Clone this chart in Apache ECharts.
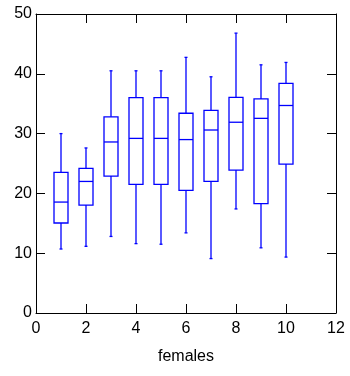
<!DOCTYPE html>
<html><head><meta charset="utf-8">
<script src="https://cdn.jsdelivr.net/npm/echarts@6/dist/echarts.min.js"></script>
<style>html,body{margin:0;padding:0;background:#fff}#c{width:350px;height:376px}</style>
</head><body><div id="c"></div>
<script>
var positions = [1, 2, 3, 4, 5, 6, 7, 8, 9, 10];
var lowWhisker = [10.7, 11.15, 12.8, 11.6, 11.5, 13.4, 9.1, 17.4, 10.9, 9.35];
var q1 = [15.05, 18.05, 22.9, 21.5, 21.5, 20.5, 22.0, 23.9, 18.3, 24.9];
var medians = [18.55, 22.0, 28.6, 29.2, 29.2, 29.0, 30.6, 31.9, 32.55, 34.7];
var q3 = [23.5, 24.2, 32.8, 36.0, 36.0, 33.4, 33.9, 36.05, 35.8, 38.4];
var highWhisker = [30.0, 27.6, 40.5, 40.5, 40.5, 42.75, 39.5, 46.8, 41.5, 41.9];
var xTicks = [0, 2, 4, 6, 8, 10, 12];
var yTicks = [0, 10, 20, 30, 40, 50];

var data = positions.map(function (p, i) {
  return [p, lowWhisker[i], q1[i], medians[i], q3[i], highWhisker[i]];
});

var chart = echarts.init(document.getElementById('c'), null, {renderer: 'canvas'});
var axisFont = {fontFamily: 'Liberation Sans, Arial, sans-serif', fontSize: 16, color: '#000'};
var axisLine = {show: true, onZero: false, lineStyle: {color: '#000', width: 1}};
var tickIn = {show: true, inside: true, length: 9, lineStyle: {color: '#000', width: 1}};

chart.setOption({
  animation: false,
  grid: {left: 36, top: 14, right: 14, bottom: 63, containLabel: false},
  xAxis: [{
    type: 'value', min: xTicks[0], max: xTicks[xTicks.length - 1], interval: 2,
    position: 'bottom',
    name: 'females', nameLocation: 'middle', nameGap: 36,
    nameTextStyle: {fontFamily: 'Liberation Sans, Arial, sans-serif', fontSize: 16, color: '#000'},
    axisLine: axisLine, axisTick: tickIn,
    axisLabel: Object.assign({margin: 8}, axisFont),
    splitLine: {show: false}
  }, {
    type: 'value', min: xTicks[0], max: xTicks[xTicks.length - 1], interval: 2,
    position: 'top',
    axisLine: axisLine, axisTick: tickIn, axisLabel: {show: false}, splitLine: {show: false}
  }],
  yAxis: [{
    type: 'value', min: yTicks[0], max: yTicks[yTicks.length - 1], interval: 10,
    position: 'left',
    axisLine: axisLine, axisTick: tickIn,
    axisLabel: Object.assign({margin: 4}, axisFont),
    splitLine: {show: false}
  }, {
    type: 'value', min: yTicks[0], max: yTicks[yTicks.length - 1], interval: 10,
    position: 'right',
    axisLine: axisLine, axisTick: tickIn, axisLabel: {show: false}, splitLine: {show: false}
  }],
  series: [{
    type: 'custom',
    xAxisIndex: 0, yAxisIndex: 0,
    data: data,
    renderItem: function (params, api) {
      var x = api.value(0);
      var lo = api.coord([x, api.value(1)]);
      var b1 = api.coord([x, api.value(2)]);
      var md = api.coord([x, api.value(3)]);
      var b3 = api.coord([x, api.value(4)]);
      var hi = api.coord([x, api.value(5)]);
      var w = api.size([0.56, 0])[0];
      var cx = lo[0];
      var style = {stroke: '#0000ff', lineWidth: 1.3, fill: null};
      var cap = 1.5;
      return {
        type: 'group',
        children: [
          {type: 'line', shape: {x1: cx, y1: hi[1], x2: cx, y2: b3[1]}, style: style},
          {type: 'line', shape: {x1: cx, y1: b1[1], x2: cx, y2: lo[1]}, style: style},
          {type: 'line', shape: {x1: cx - cap, y1: hi[1], x2: cx + cap, y2: hi[1]}, style: style},
          {type: 'line', shape: {x1: cx - cap, y1: lo[1], x2: cx + cap, y2: lo[1]}, style: style},
          {type: 'rect', shape: {x: cx - w / 2, y: b3[1], width: w, height: b1[1] - b3[1]}, style: {stroke: '#0000ff', lineWidth: 1.3, fill: 'rgba(0,0,0,0)'}},
          {type: 'line', shape: {x1: cx - w / 2, y1: md[1], x2: cx + w / 2, y2: md[1]}, style: style}
        ]
      };
    }
  }]
});
</script>
</body></html>
